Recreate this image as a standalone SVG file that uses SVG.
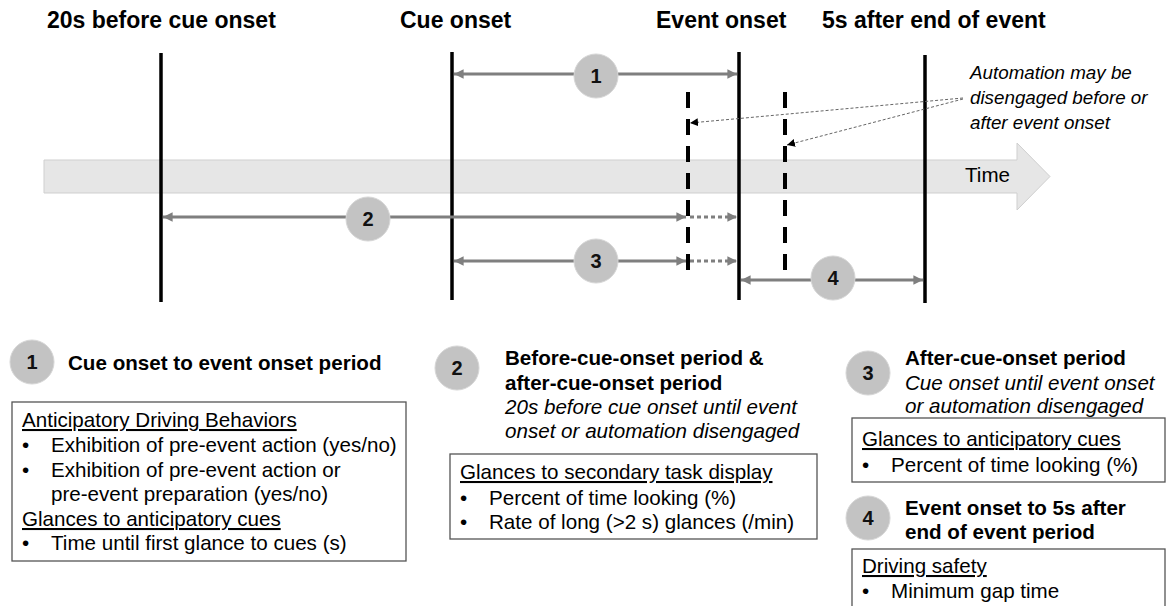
<svg xmlns="http://www.w3.org/2000/svg" width="1173" height="606" viewBox="0 0 1173 606">
<style>
.hdr{font-family:"Liberation Sans",Arial,sans-serif;font-weight:bold;font-size:23px;fill:#000}
.tt{font-family:"Liberation Sans",Arial,sans-serif;font-weight:bold;font-size:20.6px;fill:#000}
.it{font-family:"Liberation Sans",Arial,sans-serif;font-style:italic;font-size:20.6px;fill:#000}
.an{font-family:"Liberation Sans",Arial,sans-serif;font-style:italic;font-size:18.8px;fill:#000}
.tx{font-family:"Liberation Sans",Arial,sans-serif;font-size:20.6px;fill:#000}
.ul{text-decoration:underline}
.num{font-family:"Liberation Sans",Arial,sans-serif;font-weight:bold;font-size:20px;fill:#111;text-anchor:middle}
.circ{fill:#c3c3c3;stroke:#d6d6d6;stroke-width:1}
.vline{stroke:#000;stroke-width:3.5}
.dash{stroke:#000;stroke-width:4;stroke-dasharray:16 11}
.arr{stroke:#7f7f7f;stroke-width:3;fill:none}
.dot{stroke:#7f7f7f;stroke-width:3;stroke-dasharray:4 3;fill:none}
.ann{stroke:#666;stroke-width:1;stroke-dasharray:3 2;fill:none}
.box{fill:#fff;stroke:#555;stroke-width:1.3}
</style>
<defs>
<marker id="ah" viewBox="0 0 10 10" refX="10" refY="5" markerWidth="4" markerHeight="3.2" orient="auto-start-reverse" markerUnits="strokeWidth">
<path d="M0,0 L10,5 L0,10 z" fill="#7f7f7f"/>
</marker>
<marker id="ahs" viewBox="0 0 10 10" refX="10" refY="5" markerWidth="8" markerHeight="8" orient="auto" markerUnits="userSpaceOnUse">
<path d="M0,0 L10,5 L0,10 z" fill="#000"/>
</marker>
</defs>
<rect width="1173" height="606" fill="#fff"/>

<g id="headers">
<text class="hdr" x="47" y="28">20s before cue onset</text>
<text class="hdr" x="400" y="28">Cue onset</text>
<text class="hdr" x="656" y="28">Event onset</text>
<text class="hdr" x="822" y="28">5s after end of event</text>
</g>

<g id="time-arrow">
<path d="M44,160 L1017,160 L1017,143 L1050,176.5 L1017,210 L1017,193 L44,193 Z" fill="#e6e6e6" stroke="#cfcfcf" stroke-width="1"/>
<text class="tx" x="965" y="182" font-size="20">Time</text>
</g>

<g id="timelines">
<line class="vline" x1="161" y1="53" x2="161" y2="302"/>
<line class="vline" x1="452" y1="52" x2="452" y2="300"/>
<line class="vline" x1="739" y1="52" x2="739" y2="300"/>
<line class="vline" x1="925" y1="55" x2="925" y2="303"/>
<line class="dash" x1="688" y1="92" x2="688" y2="270"/>
<line class="dash" x1="785" y1="92" x2="785" y2="270"/>
</g>

<g id="connectors">
<line class="arr" x1="454" y1="74" x2="737" y2="74" marker-start="url(#ah)" marker-end="url(#ah)"/>
<line class="arr" x1="163" y1="217" x2="686" y2="217" marker-start="url(#ah)" marker-end="url(#ah)"/>
<line class="dot" x1="690" y1="217" x2="737" y2="217" marker-end="url(#ah)"/>
<line class="arr" x1="454" y1="261" x2="686" y2="261" marker-start="url(#ah)" marker-end="url(#ah)"/>
<line class="dot" x1="690" y1="261" x2="737" y2="261" marker-end="url(#ah)"/>
<line class="arr" x1="741" y1="280" x2="923" y2="280" marker-start="url(#ah)" marker-end="url(#ah)"/>
<line class="ann" x1="963" y1="98" x2="690" y2="123" marker-end="url(#ahs)"/>
<line class="ann" x1="963" y1="99" x2="787" y2="145" marker-end="url(#ahs)"/>
</g>

<g id="period-markers">
<circle class="circ" cx="596" cy="76" r="22"/><text class="num" x="596" y="83">1</text>
<circle class="circ" cx="368" cy="219" r="22"/><text class="num" x="368" y="226">2</text>
<circle class="circ" cx="596" cy="261" r="22"/><text class="num" x="596" y="268">3</text>
<circle class="circ" cx="833" cy="278" r="22"/><text class="num" x="833" y="285">4</text>
</g>

<g id="annotation">
<text class="an" x="970" y="79">Automation may be</text>
<text class="an" x="970" y="104">disengaged before or</text>
<text class="an" x="970" y="129">after event onset</text>
</g>

<g id="period1">
<circle class="circ" cx="32" cy="362" r="22"/><text class="num" x="32" y="369">1</text>
<text class="tt" x="68" y="370">Cue onset to event onset period</text>
<rect class="box" x="12" y="402" width="394" height="159"/>
<text class="tx ul" x="22" y="427">Anticipatory Driving Behaviors</text>
<text class="tx" x="22" y="452">•</text><text class="tx" x="51" y="452">Exhibition of pre-event action (yes/no)</text>
<text class="tx" x="22" y="477">•</text><text class="tx" x="51" y="477">Exhibition of pre-event action or</text>
<text class="tx" x="51" y="501">pre-event preparation (yes/no)</text>
<text class="tx ul" x="22" y="526">Glances to anticipatory cues</text>
<text class="tx" x="22" y="550">•</text><text class="tx" x="51" y="550">Time until first glance to cues (s)</text>
</g>

<g id="period2">
<circle class="circ" cx="457" cy="368" r="22"/><text class="num" x="457" y="375">2</text>
<text class="tt" x="505" y="365">Before-cue-onset period &amp;</text>
<text class="tt" x="505" y="390">after-cue-onset period</text>
<text class="it" x="505" y="414">20s before cue onset until event</text>
<text class="it" x="505" y="438">onset or automation disengaged</text>
<rect class="box" x="450" y="454" width="367" height="85"/>
<text class="tx ul" x="460" y="479">Glances to secondary task display</text>
<text class="tx" x="460" y="505">•</text><text class="tx" x="489" y="505">Percent of time looking (%)</text>
<text class="tx" x="460" y="529">•</text><text class="tx" x="489" y="529">Rate of long (&gt;2 s) glances (/min)</text>
</g>

<g id="period3">
<circle class="circ" cx="868" cy="373" r="22"/><text class="num" x="868" y="380">3</text>
<text class="tt" x="905" y="365">After-cue-onset period</text>
<text class="it" x="905" y="390">Cue onset until event onset</text>
<text class="it" x="905" y="413">or automation disengaged</text>
<rect class="box" x="852" y="418" width="313" height="64"/>
<text class="tx ul" x="862" y="446">Glances to anticipatory cues</text>
<text class="tx" x="862" y="472">•</text><text class="tx" x="891" y="472">Percent of time looking (%)</text>
</g>

<g id="period4">
<circle class="circ" cx="868" cy="518" r="22"/><text class="num" x="868" y="525">4</text>
<text class="tt" x="905" y="515">Event onset to 5s after</text>
<text class="tt" x="905" y="539">end of event period</text>
<rect class="box" x="852" y="549" width="313" height="70"/>
<text class="tx ul" x="862" y="573">Driving safety</text>
<text class="tx" x="862" y="598">•</text><text class="tx" x="891" y="598">Minimum gap time</text>
</g>
</svg>
